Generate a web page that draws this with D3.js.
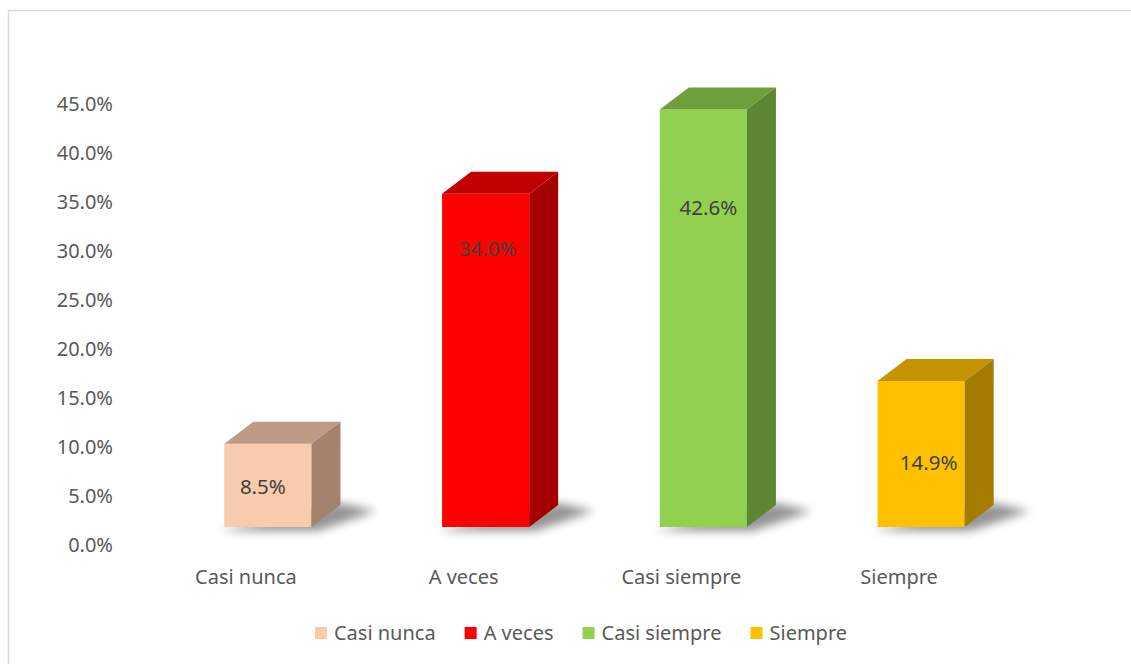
<!DOCTYPE html>
<html>
<head>
<meta charset="utf-8">
<script src="https://cdn.jsdelivr.net/npm/d3@7"></script>
<style>
  body { margin: 0; background: #fff; }
  text { font-family: "Noto Sans", "Open Sans", sans-serif; }
</style>
</head>
<body>
<div id="chart"></div>
<script>
// datos
var categorias = ["Casi nunca", "A veces", "Casi siempre", "Siempre"];
var valores = [0.085, 0.340, 0.426, 0.149];
var etiquetas = ["8.5%", "34.0%", "42.6%", "14.9%"];
var ticks = [0, 0.05, 0.10, 0.15, 0.20, 0.25, 0.30, 0.35, 0.40, 0.45];

var colFrente = ["#F8CBAD", "#FF0000", "#92D050", "#FFC000"];
var colTecho = ["#BF9A84", "#C00000", "#6F9E3D", "#C49300"];
var colLado = ["#A5826D", "#A50000", "#5E8733", "#A67C00"];

var W = 1131, H = 664;
var base = 527;          // borde inferior de la cara frontal
var dx = 29, dy = -22;   // profundidad 3D

var svg = d3.select("#chart").append("svg")
    .attr("width", W).attr("height", H);

// sombra
var defs = svg.append("defs");
defs.append("filter").attr("id", "sombra")
    .attr("x", "-50%").attr("y", "-50%").attr("width", "200%").attr("height", "200%")
  .append("feGaussianBlur").attr("stdDeviation", 5);

// marco
svg.append("path")
    .attr("d", "M8.5," + H + "V10.5H" + W)
    .attr("fill", "none").attr("stroke", "#d9d9d9").attr("stroke-width", 1.5);

/*
 * escalas
 */
var x = d3.scaleBand()
    .domain(categorias)
    .range([159, 1030])
    .paddingInner(0.6)
    .paddingOuter(0.3);

var y = d3.scaleLinear()
    .domain([0, 0.45])
    .range([base, base - 441]);

// el eje esta sobre la pared del fondo, desplazado hacia abajo
var yEje = d3.scaleLinear()
    .domain([0, 0.45])
    .range([base + 18, base + 18 - 441]);

var eje = svg.append("g")
    .attr("transform", "translate(113,0)")
    .call(d3.axisLeft(yEje).tickValues(ticks).tickFormat(d3.format(".1%")).tickSize(0).tickPadding(0));
eje.select(".domain").remove();
eje.selectAll("text")
    .attr("fill", "#595959")
    .style("font-size", "20px")
    .style("font-family", "'Noto Sans', sans-serif");

/*
 * barras
 */
var barras = svg.selectAll("g.barra")
    .data(valores)
    .enter().append("g").attr("class", "barra");

barras.append("polygon")
    .attr("points", function (d, i) {
        var x0 = x(categorias[i]), x1 = x0 + x.bandwidth();
        return [[x0 - 4, base + 4], [x1 + 6, base + 4], [x1 + dx + 36, base + dy + 6], [x1 + dx, base + dy - 2]].join(" ");
    })
    .attr("fill", "#000").attr("opacity", 0.42)
    .attr("filter", "url(#sombra)");

// cara frontal
barras.append("rect")
    .attr("x", (d, i) => x(categorias[i]))
    .attr("y", d => y(d))
    .attr("width", x.bandwidth())
    .attr("height", d => base - y(d))
    .attr("fill", (d, i) => colFrente[i]);

// techo
barras.append("polygon")
    .attr("points", function (d, i) {
        var x0 = x(categorias[i]), x1 = x0 + x.bandwidth(), t = y(d);
        return [[x0, t], [x0 + dx, t + dy], [x1 + dx, t + dy], [x1, t]].join(" ");
    })
    .attr("fill", (d, i) => colTecho[i]);

// lado derecho
barras.append("polygon")
    .attr("points", function (d, i) {
        var x1 = x(categorias[i]) + x.bandwidth(), t = y(d);
        return [[x1, t], [x1 + dx, t + dy], [x1 + dx, base + dy], [x1, base]].join(" ");
    })
    .attr("fill", (d, i) => colLado[i]);

// etiquetas de datos (posicion aproximada de Excel 3D)
var fracEtiqueta = [0.48, 0.836, 0.765, 0.438];
var desvX = [-5, 2, 5, 7.5];
barras.append("text")
    .attr("x", (d, i) => x(categorias[i]) + x.bandwidth() / 2 + desvX[i])
    .attr("y", (d, i) => y(d * fracEtiqueta[i]))
    .attr("dy", "0.35em")
    .attr("text-anchor", "middle")
    .attr("fill", "#404040")
    .style("font-size", "20.5px")
    .text((d, i) => etiquetas[i]);

// etiquetas de categoria
svg.append("g").selectAll("text")
    .data(categorias)
    .enter().append("text")
    .attr("x", d => x(d) + x.bandwidth() / 2 - 22)
    .attr("y", 577)
    .attr("dy", "0.35em")
    .attr("text-anchor", "middle")
    .attr("fill", "#595959")
    .style("font-size", "20px")
    .text(d => d);

/*
 * leyenda
 */
var ley = svg.append("g");
var items = ley.selectAll("g")
    .data(categorias)
    .enter().append("g");
items.append("rect")
    .attr("width", 12).attr("height", 12)
    .attr("y", 627)
    .attr("fill", (d, i) => colFrente[i]);
items.append("text")
    .attr("x", 19).attr("y", 633).attr("dy", "0.35em")
    .attr("fill", "#595959")
    .style("font-size", "20px")
    .text(d => d);

var pos = 0, posiciones = [];
items.each(function () {
    posiciones.push(pos);
    pos += 19 + this.querySelector("text").getComputedTextLength() + 29;
});
var total = pos - 29;
var inicio = 581 - total / 2;
items.attr("transform", (d, i) => "translate(" + (inicio + posiciones[i]) + ",0)");
</script>
</body>
</html>
